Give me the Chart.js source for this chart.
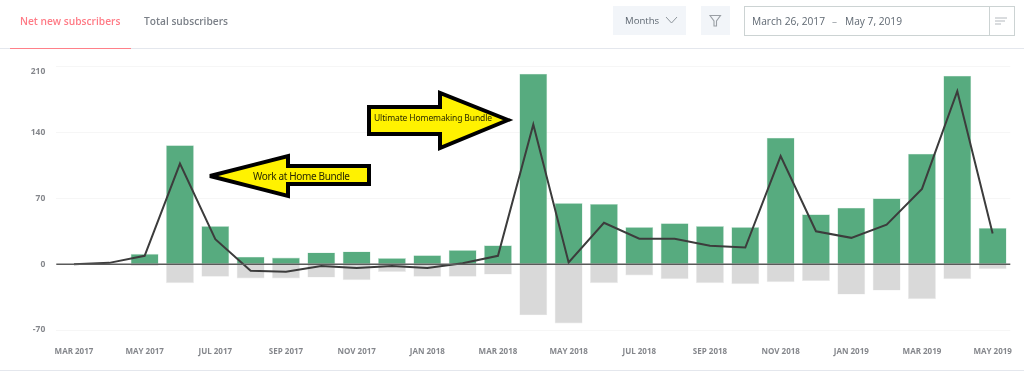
<!DOCTYPE html>
<html>
<head>
<meta charset="utf-8">
<script src="https://cdn.jsdelivr.net/npm/chart.js@4/dist/chart.umd.min.js"></script>
<style>
    html, body { margin: 0; padding: 0; background: #fff; }
    body { position: relative; width: 1024px; height: 371px; overflow: hidden; font-family: "Open Sans", sans-serif; }
    #chartBox { position: absolute; left: 0; top: 0; width: 1024px; height: 371px; }
    .abs { position: absolute; white-space: nowrap; }
    .tab { top: 13px; font-size: 10.2px; line-height: 16px; font-weight: 600; }
    .rule { position: absolute; left: 0; width: 1024px; height: 1px; background: #e4e7ed; }
    .btn { position: absolute; top: 6px; height: 29px; background: #f2f5f9; }
    svg { position: absolute; left: 0; top: 0; }
</style>
</head>
<body>
<div id="chartBox"><canvas id="subscribersChart" width="1024" height="371"></canvas></div>

<div class="abs tab" style="left:20px;color:#ff7b86">Net new subscribers</div>
<div class="abs tab" style="left:144px;color:#7b8088">Total subscribers</div>
<div class="rule" style="top:48px"></div>
<div class="abs" style="left:10px;top:48px;width:121px;height:1px;background:#ff8089"></div>
<div class="rule" style="top:370px"></div>

<div class="btn" style="left:613px;width:73px"></div>
<div class="btn" style="left:701px;width:29px"></div>
<div class="abs" style="left:625px;top:13px;font-size:9.6px;line-height:16px;color:#5f6872">Months</div>
<div class="abs" style="left:744px;top:6px;width:269px;height:28px;border:1px solid #ccd3d3;box-sizing:content-box"></div>
<div class="abs" style="left:989px;top:6px;width:1px;height:29px;background:#ccd3d3"></div>
<div class="abs" style="left:752px;top:12px;font-size:10.2px;line-height:18px;color:#5f6872">March 26, 2017</div>
<div class="abs" style="left:832px;top:12px;font-size:10px;line-height:18px;color:#9aa0a6">–</div>
<div class="abs" style="left:845px;top:12px;font-size:10.2px;line-height:18px;color:#5f6872">May 7, 2019</div>

<svg width="1024" height="371">
    <polyline points="666,17 671.5,23 677,17" fill="none" stroke="#8e959c" stroke-width="1"/>
    <path d="M710,15.5 H720.5 L716.5,21 V26 H714 V21 Z" fill="none" stroke="#9a9fa5" stroke-width="1.1"/>
    <path d="M995,18 H1007 M995,21 H1005 M995,24 H1001" fill="none" stroke="#b4b9be" stroke-width="1"/>

    <polygon points="369,107 440,107 440,93 508,120 440,148 440,134 369,134" fill="#fff200" stroke="#000" stroke-width="4" stroke-linejoin="miter"/>
    <text x="374" y="120.5" font-family="'Noto Sans', sans-serif" font-size="8.5" fill="#2a2a00" textLength="118">Ultimate Homemaking Bundle</text>
    <polygon points="210,176 288,156 288,166 369,166 369,184 288,184 288,196" fill="#fff200" stroke="#000" stroke-width="4" stroke-linejoin="miter"/>
    <text x="253" y="180" font-family="'Noto Sans', sans-serif" font-size="10" fill="#2a2a00" textLength="97">Work at Home Bundle</text>
</svg>

<script>
const monthLabels = ['MAR 2017', 'APR 2017', 'MAY 2017', 'JUN 2017', 'JUL 2017', 'AUG 2017', 'SEP 2017', 'OCT 2017', 'NOV 2017',
    'DEC 2017', 'JAN 2018', 'FEB 2018', 'MAR 2018', 'APR 2018', 'MAY 2018', 'JUN 2018', 'JUL 2018', 'AUG 2018',
    'SEP 2018', 'OCT 2018', 'NOV 2018', 'DEC 2018', 'JAN 2019', 'FEB 2019', 'MAR 2019', 'APR 2019', 'MAY 2019'];
const gained = [0, 0, 11, 126.5, 40.5, 8, 7, 12.5, 13.5, 6.5, 9.5, 15, 20, 202.5, 65, 64, 39.5, 43.5, 40.5, 39.5, 134.5, 53, 60, 70, 117.5, 200.5, 38.5];
const lost = [0, 0, -2, -20.2, -13.5, -15.2, -15.2, -14.2, -17, -8.2, -13.5, -13.5, -11, -54.3, -63, -20.2, -12, -16, -20.2, -21.3, -19.1, -18, -32.3, -28, -37.2, -16, -5.3];
const netNew = [0, 1.4, 8.9, 107, 26.6, -7, -8, -2, -4, -2, -4, 1, 8.9, 148.6, 1.8, 44, 27, 27, 19.5, 17.7, 115, 35, 28, 42, 80, 184, 32.5];
const yTicks = [-70, 0, 70, 140, 210];

// верхняя подпись оси стоит чуть ниже своей линии
const shiftTopLabel = {
    id: 'shiftTopLabel',
    beforeDraw(chart) {
        const top = chart.scales.y.getLabelItems().find(item => item.label === '210');
        if (top && !top.shifted) {
            top.options.translation[1] += 4.5;
            top.shifted = true;
        }
    }
};

// нулевая линия поверх столбиков, остальная сетка под ними
const zeroLine = {
    id: 'zeroLine',
    afterDatasetsDraw(chart) {
        const { ctx, chartArea, scales } = chart;
        const y = scales.y.getPixelForValue(0);
        ctx.save();
        ctx.strokeStyle = '#5a5a5a';
        ctx.lineWidth = 1.5;
        ctx.beginPath();
        ctx.moveTo(chartArea.left, y);
        ctx.lineTo(chartArea.right, y);
        ctx.stroke();
        ctx.restore();
    }
};

const ctx = document.getElementById('subscribersChart').getContext('2d');
new Chart(ctx, {
    type: 'bar',
    plugins: [shiftTopLabel, zeroLine],
    data: {
        labels: monthLabels,
        datasets: [
            {
                type: 'line',
                label: 'Net',
                data: netNew,
                borderColor: '#3c3c3c',
                borderWidth: 2,
                pointRadius: 0,
                tension: 0,
                order: 0
            },
            {
                label: 'Gained',
                data: gained,
                backgroundColor: '#57ab7f',
                borderColor: '#c4e3d3',
                borderWidth: 0.6,
                categoryPercentage: 1,
                barPercentage: 0.79,
                stack: 'subs',
                order: 1
            },
            {
                label: 'Lost',
                data: lost,
                backgroundColor: '#d9d9d9',
                borderColor: '#ececec',
                borderWidth: 0.6,
                categoryPercentage: 1,
                barPercentage: 0.79,
                stack: 'subs',
                order: 1
            }
        ]
    },
    options: {
        responsive: false,
        animation: false,
        layout: { padding: { left: 0, right: 13.7, top: 66.7, bottom: 0 } },
        plugins: {
            legend: { display: false },
            title: { display: false },
            tooltip: { enabled: false }
        },
        scales: {
            x: {
                stacked: true,
                grid: { display: false },
                border: { display: false },
                afterFit(scale) { scale.height = 41; },
                ticks: {
                    autoSkip: false,
                    maxRotation: 0,
                    minRotation: 0,
                    padding: 9,
                    color: '#85878c',
                    font: { family: 'Open Sans', size: 8, weight: '700' },
                    callback(value, index) { return index % 2 === 0 ? monthLabels[index] : ''; }
                }
            },
            y: {
                stacked: true,
                min: -70,
                max: 210,
                afterFit(scale) { scale.width = 56.3; },
                afterBuildTicks(scale) { scale.ticks = yTicks.map(value => ({ value })); },
                border: { display: false },
                grid: {
                    drawTicks: false,
                    lineWidth: 1,
                    color: '#f6f6f6'
                },
                ticks: {
                    padding: 11,
                    color: '#85878c',
                    font: { family: 'Open Sans', size: 8.5, weight: '700' }
                }
            }
        }
    }
});
</script>
</body>
</html>
